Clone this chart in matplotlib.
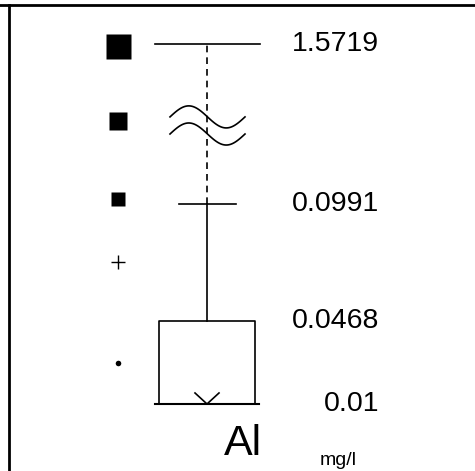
import numpy as np
import matplotlib
matplotlib.use("Agg")
import matplotlib.pyplot as plt
from matplotlib.lines import Line2D

# -----------------------------------
# Data (mg/l, aluminium)
# -----------------------------------
parameter = "Al"
unit = "mg/l"
maximum = 1.5719
upper_whisker = 0.0991
q3 = 0.0468
q1 = 0.01
median = 0.01
mean = 0.0731
lower_mark = 0.0282
label_values = [maximum, upper_whisker, q3, q1]

# axis is broken above the whisker: the maximum is drawn here instead
max_drawn_at = 0.17
break_at = 0.1338
square_levels = [0.169, 0.1356, 0.1011]
square_sizes = [18, 13, 10.5]

# -----------------------------------
# Figure
# -----------------------------------
fig = plt.figure(figsize=(4.75, 4.71), dpi=100)
ax = fig.add_axes([0, 0, 1, 1])
ax.set_xlim(0, 475)
ax.set_ylim(-0.01978, 0.18956)
ax.axis("off")

fam = ["Liberation Sans Narrow", "Liberation Sans", "DejaVu Sans"]
lw = 1.2
xc = 207

# frame lines (top and left)
fig.add_artist(Line2D([0, 1], [1 - 5 / 471] * 2, transform=fig.transFigure, color="black", lw=2))
fig.add_artist(Line2D([9 / 475] * 2, [0, 1 - 5 / 471], transform=fig.transFigure, color="black", lw=2))

# box
ax.plot([159, 159, 255, 255], [q1, q3, q3, q1], color="black", lw=lw)
ax.plot([155, 259], [q1, q1], color="black", lw=lw + 0.3)
# whiskers
ax.plot([xc, xc], [q3, upper_whisker], color="black", lw=lw)
ax.plot([xc, xc], [upper_whisker, max_drawn_at], color="black", lw=lw, dashes=(4, 3))
ax.plot([179, 236], [upper_whisker, upper_whisker], color="black", lw=lw)
ax.plot([155, 260], [max_drawn_at, max_drawn_at], color="black", lw=lw)

# break symbol
bx = np.linspace(170, 245, 80)
amp = 0.0049
for off in [0.0038, -0.0038]:
    ax.plot(bx, break_at + off + amp * np.sin(2 * np.pi * (bx - 170) / 75), color="black", lw=lw)

# median marker
ax.plot([195, xc, 219], [median + 0.0049, median, median + 0.0049], color="black", lw=lw)

# symbols column
for lev, s in zip(square_levels, square_sizes):
    ax.plot(118, lev, marker="s", ms=s, color="black", mec="none")
ax.plot(118, mean, marker="+", ms=10, color="black", mew=1)
ax.plot(118, lower_mark, marker="o", ms=4, color="black", mec="none")

# value labels
label_pos = [max_drawn_at, upper_whisker, q3, q1]
for v, y in zip(label_values, label_pos):
    ax.text(379, y, f"{v:.4f}".rstrip("0") if v == q1 else f"{v:.4f}",
            ha="right", va="center", fontsize=20.5, family=fam)

ax.text(243, -0.008, parameter, ha="center", va="center", fontsize=31, family=fam)
ax.text(338, -0.0115, unit, ha="center", va="top", fontsize=14, family=fam)

fig.savefig("out.png", dpi=100)
